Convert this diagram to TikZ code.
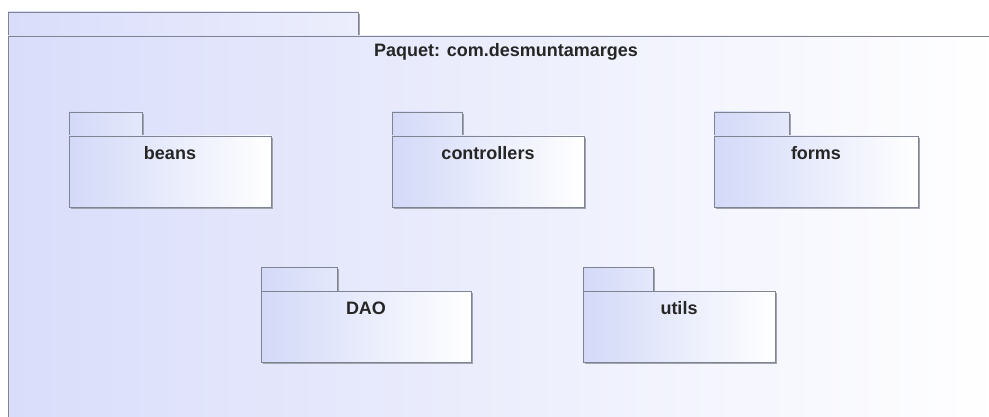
\documentclass[tikz,border=0pt]{standalone}
\usepackage{fontspec}
\setmainfont{Liberation Sans}
\usetikzlibrary{shadows}
\definecolor{pkgline}{HTML}{7E8491}
\definecolor{pkgblue}{HTML}{D3D9F8}
\definecolor{outerblue}{HTML}{D9DDFA}
\definecolor{shadowgray}{HTML}{A0A4AC}
\tikzset{
  pkgtab/.style={draw=pkgline, line width=0.9pt, left color=pkgblue, right color=pkgblue!60!white},
  pkgbody/.style={draw=pkgline, line width=0.9pt, left color=pkgblue, right color=white},
  pkgshadow/.style={fill=shadowgray, draw=none},
  pkglabel/.style={font=\bfseries\fontsize{18}{21}\selectfont, text=black!85, anchor=center},
}
% \pkgdraw{x0}{y tab top}{x0}{tab right}{body right}{bottom}{label}
\newcommand{\pkgdraw}[7]{%
  \fill[pkgshadow] (#3+2,#2+2) rectangle (#4+2,#2+26);
  \fill[pkgshadow] (#1+2,#2+26) rectangle (#5+2,#6+2);
  \path[pkgtab] (#1,#2) rectangle (#4,#2+24);
  \path[pkgbody] (#1,#2+24) rectangle (#5,#6);
  \node[pkglabel] (#7) at ({(#1+#5)/2},#2+41) {#7};
}
\begin{document}
\begin{tikzpicture}[x=1pt,y=-1pt]
\useasboundingbox (0,0) rectangle (989,417);
\fill[white] (0,0) rectangle (989,417);
\begin{scope}
\clip (0,0) rectangle (989,417);
% outer package
\fill[shadowgray] (10,14) rectangle (360,38);
\path[draw=pkgline, line width=0.9pt, left color=outerblue, right color=outerblue!50!white] (8,12) rectangle (358,36);
\path[draw=pkgline, line width=0.9pt, shading=axis, shading angle=60, left color=outerblue, right color=white] (8,36) rectangle (1000,430);
\end{scope}
\node[font=\bfseries\fontsize{18}{21}\selectfont, text=black!85] (title) at (506,52) {Paquet: com.desmuntamarges};
\pkgdraw{69}{112}{69}{142}{271}{207}{beans}
\pkgdraw{392}{112}{392}{462}{584}{207}{controllers}
\pkgdraw{714}{112}{714}{789}{918}{207}{forms}
\pkgdraw{261}{267}{261}{337}{471}{362}{DAO}
\pkgdraw{583}{267}{583}{653}{775}{362}{utils}
\end{tikzpicture}
\end{document}
